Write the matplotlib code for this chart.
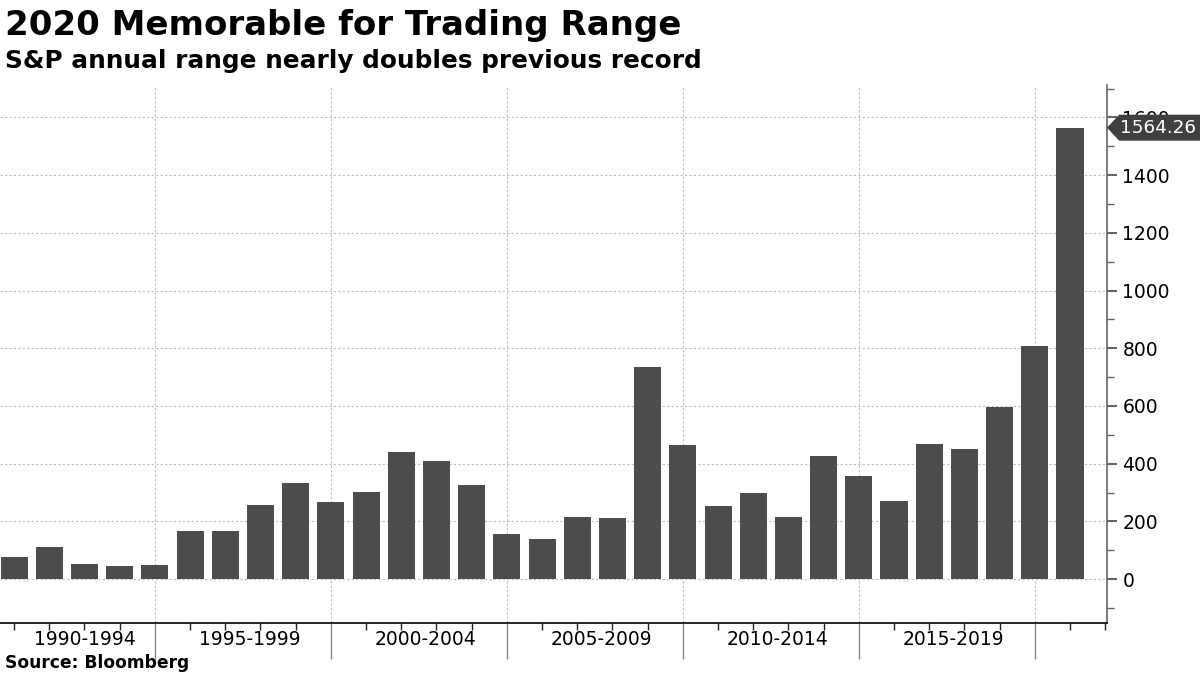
import numpy as np
import matplotlib
matplotlib.use("Agg")
import matplotlib.pyplot as plt
from matplotlib.patches import Polygon
import matplotlib.transforms as mtransforms

# S&P 500 annual trading range (high - low), points
years = list(range(1990, 2021))
ranges = [76, 111, 52, 45, 48, 166, 166, 256, 334, 267,
          302, 440, 409, 326, 156, 138, 215, 212, 736, 465,
          254, 299, 216, 427, 358, 271, 469, 452, 597, 808,
          1564.26]

group_labels = ["1990-1994", "1995-1999", "2000-2004", "2005-2009", "2010-2014", "2015-2019"]
group_edges = [1994, 1999, 2004, 2009, 2014, 2019]

title = "2020 Memorable for Trading Range"
subtitle = "S&P annual range nearly doubles previous record"
source = "Source: Bloomberg"

bar_color = "#4d4d4d"
grid_color = "#bdbdbd"

fig = plt.figure(figsize=(12, 6.75), dpi=100)
ax = fig.add_axes([0.0, 0.077, 0.9225, 0.797])

ax.bar(years, ranges, width=0.77, color=bar_color, zorder=2)

xmin, xmax = 1989.6, 2021.05
ax.set_xlim(xmin, xmax)
ax.set_ylim(-152, 1712)

# y axis on right
ax.yaxis.tick_right()
ax.set_yticks(np.arange(0, 1601, 200))
ax.set_yticks(np.arange(-100, 1701, 100), minor=True)
ax.tick_params(axis="y", which="major", direction="out", length=7, width=1.5,
               color="#666666", labelsize=13.5, pad=4, labelcolor="black")
ax.tick_params(axis="y", which="minor", direction="out", length=5, width=1,
               color="#666666")
ax.tick_params(axis="y", left=False, which="both")

# x axis: long ticks at group edges, short ones at each year
ax.set_xticks(group_edges)
ax.set_xticklabels([])
minor_x = [y for y in range(1990, 2022) if y not in group_edges]
ax.set_xticks(minor_x, minor=True)
ax.tick_params(axis="x", which="major", direction="out", length=26, width=1,
               color="#888888")
ax.tick_params(axis="x", which="minor", direction="out", length=5, width=1,
               color="#222222")

ax.grid(axis="y", which="major", linestyle=(0, (2, 2)), color=grid_color, linewidth=0.8, zorder=0)
ax.grid(axis="x", which="major", linestyle=(0, (2, 2)), color=grid_color, linewidth=0.8, zorder=0)
ax.set_axisbelow(True)

for s in ["top", "left"]:
    ax.spines[s].set_visible(False)
ax.spines["right"].set_color("#666666")
ax.spines["right"].set_linewidth(1.2)
ax.spines["bottom"].set_color("black")
ax.spines["bottom"].set_linewidth(1.2)

# group labels centered between edges
lefts = [xmin] + group_edges[:-1]
for lab, lo, hi in zip(group_labels, lefts, group_edges):
    ax.text((lo + hi) / 2 + 0.2, -0.03, lab, transform=ax.get_xaxis_transform(),
            ha="center", va="center", fontsize=13.5)

# value tag for last bar
last = ranges[-1]
trans = mtransforms.blended_transform_factory(ax.transAxes, ax.transData)
h = 45
tag = Polygon([(1.0, last), (1.011, last + h), (1.084, last + h),
               (1.084, last - h), (1.011, last - h)], closed=True,
              transform=trans, facecolor="#3f3f3f", edgecolor="none",
              clip_on=False, zorder=5)
ax.add_patch(tag)
ax.text(1.046, last, f"{last:.2f}", transform=trans, ha="center", va="center",
        color="white", fontsize=13.2, zorder=6, clip_on=False)

fig.text(0.004, 0.962, title, fontsize=24.5, fontweight="bold", ha="left", va="center")
fig.text(0.004, 0.91, subtitle, fontsize=17.8, fontweight="bold", ha="left", va="center")
fig.text(0.004, 0.018, source, fontsize=12.3, fontweight="bold", ha="left", va="center")

fig.savefig("out.png", dpi=100)
